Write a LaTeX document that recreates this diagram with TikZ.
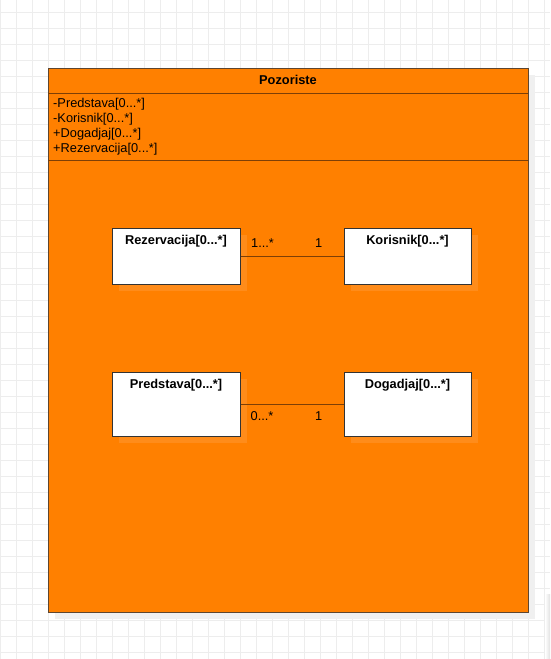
\documentclass[tikz,border=0pt]{standalone}
\usepackage{fontspec}
\setmainfont{Liberation Sans}
\usetikzlibrary{shadows}
\definecolor{umlorange}{HTML}{FF8000}
\definecolor{umlshade}{HTML}{FF8C1A}
\definecolor{pageshade}{HTML}{F0F0F0}
\definecolor{gridgray}{HTML}{EDEDED}
\definecolor{framebrown}{HTML}{5E4630}
\definecolor{linebrown}{HTML}{7D3F06}
\begin{document}
\begin{tikzpicture}[x=1pt,y=-1pt,
    every node/.style={font=\fontsize{12.8}{15}\selectfont},
    entity/.style={draw=black!80,fill=white,line width=1pt,inner sep=0pt,
      minimum width=128pt,
      drop shadow={shadow xshift=7pt,shadow yshift=-7pt,fill=umlshade,opacity=1}},
    title/.style={font=\fontsize{12.8}{15}\selectfont\bfseries,anchor=base},
    attr/.style={anchor=base west,inner sep=0pt},
    assoc/.style={draw=linebrown,line width=1pt},
    mult/.style={inner sep=0pt}]
  \useasboundingbox (0,0) rectangle (550,659);
  % grid
  \foreach \gx in {0,16,...,544}{%
    \draw[gridgray,line width=1pt] (\gx,0) -- (\gx,659);}
  \foreach \gy in {12,28,...,652}{%
    \draw[gridgray,line width=1pt] (0,\gy) -- (550,\gy);}
  \shade[left color=white,right color=black!12] (545,594) rectangle (550,659);
  % outer class
  \fill[pageshade] (55,75) rectangle (535,619);
  \node[draw=framebrown,fill=umlorange,line width=1pt,inner sep=0pt,
    minimum width=480pt,minimum height=544pt] (pozoriste) at (288,340) {};
  \node[title] (pozname) at (288,84.5) {Pozoriste};
  \draw[linebrown,line width=1pt] (48,93) -- (528,93);
  \draw[linebrown,line width=1pt] (48,160) -- (528,160);
  \node[attr] (attr1) at (53,107.5) {-Predstava[0...*]};
  \node[attr] (attr2) at (53,122.5) {-Korisnik[0...*]};
  \node[attr] (attr3) at (53,137.5) {+Dogadjaj[0...*]};
  \node[attr] (attr4) at (53,152.5) {+Rezervacija[0...*]};
  % inner classes
  \node[entity,minimum height=56pt] (rez) at (176,256) {};
  \node[entity,minimum width=127pt,minimum height=56pt] (kor) at (407.5,256) {};
  \node[entity,minimum height=64pt] (pred) at (176,404) {};
  \node[entity,minimum width=127pt,minimum height=64pt] (dog) at (407.5,404) {};
  \node[title] at ([yshift=-16.5pt]rez.north) {Rezervacija[0...*]};
  \node[title] at ([yshift=-16.5pt]kor.north) {Korisnik[0...*]};
  \node[title] at ([yshift=-17pt]pred.north) {Predstava[0...*]};
  \node[title] at ([yshift=-17pt]dog.north) {Dogadjaj[0...*]};
  % associations
  \draw[assoc] (rez.east) -- (kor.west);
  \node[mult,anchor=base west] at ([xshift=10.5pt,yshift=9pt]rez.east) {1...*};
  \node[mult,anchor=base east] at ([xshift=-21pt,yshift=9pt]kor.west) {1};
  \draw[assoc] (pred.east) -- (dog.west);
  \node[mult,anchor=base west] at ([xshift=10pt,yshift=-16pt]pred.east) {0...*};
  \node[mult,anchor=base east] at ([xshift=-21pt,yshift=-16pt]dog.west) {1};
\end{tikzpicture}
\end{document}
